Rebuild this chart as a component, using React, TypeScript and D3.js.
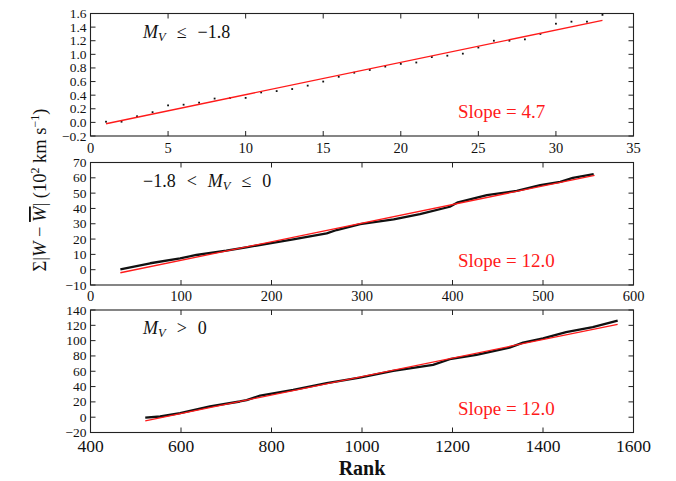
import React from "react";
import * as d3 from "d3";

// ---------- data ----------
const rank1 = [1, 2, 3, 4, 5, 6, 7, 8, 9, 10, 11, 12, 13, 14, 15, 16, 17, 18, 19, 20, 21, 22, 23, 24, 25, 26, 27, 28, 29, 30, 31, 32, 33];
const sum1 = [0.01, 0.01, 0.09, 0.15, 0.25, 0.26, 0.29, 0.35, 0.36, 0.36, 0.44, 0.46, 0.49, 0.54, 0.6, 0.67, 0.73, 0.77, 0.82, 0.86, 0.88, 0.96, 0.98, 1.01, 1.1, 1.2, 1.2, 1.22, 1.3, 1.45, 1.48, 1.48, 1.58];

const rank2 = [33, 66, 99, 117, 150, 172, 198, 224, 261, 272, 298, 335, 364, 397, 406, 438, 471, 497, 519, 533, 556];
const sum2 = [0.2, 4.2, 7.4, 9.6, 12.4, 14.6, 17.2, 19.8, 23.7, 25.9, 29.8, 32.9, 36.3, 41.1, 44.0, 48.7, 51.5, 55.2, 57.4, 60.0, 62.4];

const rank3 = [521, 554, 598, 664, 730, 745, 775, 848, 922, 995, 1069, 1157, 1194, 1253, 1326, 1356, 1400, 1451, 1510, 1565];
const sum3 = [-0.5, 0.9, 5.3, 14, 20.5, 22.3, 28.3, 35.7, 44.4, 51.8, 60.5, 68.3, 75.7, 81.4, 90.9, 97.4, 103, 111, 117.5, 126];

const fitRank1 = [1, 33];
const fitSum1 = [-0.02, 1.5];
const fitRank2 = [33, 557];
const fitSum2 = [-2.0, 61.6];
const fitRank3 = [521, 1565];
const fitSum3 = [-4.7, 121.3];

const xTicks1 = [0, 5, 10, 15, 20, 25, 30, 35];
const yTicks1 = [-0.2, 0, 0.2, 0.4, 0.6, 0.8, 1.0, 1.2, 1.4, 1.6];
const xTicks2 = [0, 100, 200, 300, 400, 500, 600];
const yTicks2 = [-10, 0, 10, 20, 30, 40, 50, 60, 70];
const xTicks3 = [400, 600, 800, 1000, 1200, 1400, 1600];
const yTicks3 = [-20, 0, 20, 40, 60, 80, 100, 120, 140];

const slopeLabels = ["Slope = 4.7", "Slope = 12.0", "Slope = 12.0"];
const xLabel = "Rank";

// ---------- layout ----------
const FONT = "'Liberation Serif', 'Times New Roman', serif";
const LEFT = 90.5;
const RIGHT = 633.5;
const RED = "#ff1a1a";

const fmt = (d: number, dec: number) => {
  const s = Math.abs(d).toFixed(dec);
  return d < 0 ? "\u2212" + s : s;
};

type PanelProps = {
  top: number;
  bottom: number;
  xDomain: [number, number];
  yDomain: [number, number];
  xTicks: number[];
  yTicks: number[];
  yDec: number;
  xFont: number;
  xLabelOff: number;
  rank: number[];
  sum: number[];
  dots: boolean;
  fitRank: number[];
  fitSum: number[];
  slope: string;
  label: React.ReactNode;
};

function Panel(p: PanelProps) {
  const x = d3.scaleLinear().domain(p.xDomain).range([LEFT, RIGHT]);
  const y = d3.scaleLinear().domain(p.yDomain).range([p.bottom, p.top]);
  const pts: [number, number][] = p.rank.map((r, i) => [r, p.sum[i]]);
  const fit: [number, number][] = p.fitRank.map((r, i) => [r, p.fitSum[i]]);
  const line = d3
    .line<[number, number]>()
    .x((d) => x(d[0]))
    .y((d) => y(d[1]));
  const TL = 5;
  return (
    <g>
      {p.dots ? (
        pts.map((d, i) => (
          <rect key={i} x={x(d[0]) - 0.9} y={y(d[1]) - 0.9} width={1.8} height={1.8} fill="#111" />
        ))
      ) : (
        <path d={line(pts) || ""} fill="none" stroke="#111" strokeWidth={2.3} strokeLinejoin="round" />
      )}
      <path d={line(fit) || ""} fill="none" stroke={RED} strokeWidth={1.3} />
      {/* frame */}
      <rect x={LEFT} y={p.top} width={RIGHT - LEFT} height={p.bottom - p.top} fill="none" stroke="#222" strokeWidth={1.1} />
      {/* x ticks */}
      {p.xTicks.map((t) => (
        <g key={"x" + t}>
          <line x1={x(t)} x2={x(t)} y1={p.bottom} y2={p.bottom - TL} stroke="#222" strokeWidth={1} />
          <line x1={x(t)} x2={x(t)} y1={p.top} y2={p.top + TL} stroke="#222" strokeWidth={1} />
          <text x={x(t)} y={p.bottom + p.xLabelOff} textAnchor="middle" fontSize={p.xFont} fontFamily={FONT} fill="#111">
            {fmt(t, 0)}
          </text>
        </g>
      ))}
      {/* y ticks */}
      {p.yTicks.map((t) => (
        <g key={"y" + t}>
          <line x1={LEFT} x2={LEFT + TL} y1={y(t)} y2={y(t)} stroke="#222" strokeWidth={1} />
          <line x1={RIGHT} x2={RIGHT - TL} y1={y(t)} y2={y(t)} stroke="#222" strokeWidth={1} />
          <text x={LEFT - 4} y={y(t) + 4.5} textAnchor="end" fontSize={13.5} fontFamily={FONT} fill="#111">
            {fmt(t, p.yDec)}
          </text>
        </g>
      ))}
      <text x={458} y={p.bottom - 18} fontSize={19} fontFamily={FONT} fill={RED}>
        {p.slope}
      </text>
      <g transform={`translate(143, ${p.top + 24})`}>{p.label}</g>
    </g>
  );
}

const MV = () => (
  <>
    <tspan fontStyle="italic">M</tspan>
    <tspan fontStyle="italic" fontSize={12.5} dy={3}>V</tspan>
  </>
);

export default function App() {
  const label1 = (
    <text x={0} y={0} fontSize={18} fontFamily={FONT} fill="#111">
      <MV />
      <tspan dy={-3} dx={11}>≤</tspan>
      <tspan dx={11}>−1.8</tspan>
    </text>
  );
  const label2 = (
    <text x={0} y={0} fontSize={18} fontFamily={FONT} fill="#111">
      <tspan>−1.8</tspan>
      <tspan dx={11}>&lt;</tspan>
      <tspan dx={11} fontStyle="italic">M</tspan>
      <tspan fontStyle="italic" fontSize={12.5} dy={3}>V</tspan>
      <tspan dy={-3} dx={11}>≤</tspan>
      <tspan dx={11}>0</tspan>
    </text>
  );
  const label3 = (
    <text x={0} y={0} fontSize={18} fontFamily={FONT} fill="#111">
      <MV />
      <tspan dy={-3} dx={11}>&gt;</tspan>
      <tspan dx={11}>0</tspan>
    </text>
  );
  return (
    <svg width={676} height={481} style={{ position: "absolute", left: 0, top: 0, background: "#fff" }}>
      <Panel top={13.5} bottom={136} xDomain={[0, 35]} yDomain={[-0.2, 1.6]} xTicks={xTicks1} yTicks={yTicks1} yDec={1}
        xFont={14.5} xLabelOff={16.5} rank={rank1} sum={sum1} dots={true} fitRank={fitRank1} fitSum={fitSum1}
        slope={slopeLabels[0]} label={label1} />
      <Panel top={162.5} bottom={285} xDomain={[0, 600]} yDomain={[-10, 70]} xTicks={xTicks2} yTicks={yTicks2} yDec={0}
        xFont={14.5} xLabelOff={16} rank={rank2} sum={sum2} dots={false} fitRank={fitRank2} fitSum={fitSum2}
        slope={slopeLabels[1]} label={label2} />
      <Panel top={310} bottom={432.5} xDomain={[400, 1600]} yDomain={[-20, 140]} xTicks={xTicks3} yTicks={yTicks3} yDec={0}
        xFont={17.5} xLabelOff={19.5} rank={rank3} sum={sum3} dots={false} fitRank={fitRank3} fitSum={fitSum3}
        slope={slopeLabels[2]} label={label3} />
      <text x={362} y={475} textAnchor="middle" fontSize={20} fontWeight="bold" fontFamily={FONT} fill="#111">
        {xLabel}
      </text>
      <text transform="translate(46, 190) rotate(-90)" textAnchor="middle" fontSize={18.5} fontFamily={FONT} fill="#111">
        <tspan>Σ|</tspan>
        <tspan fontStyle="italic">W</tspan>
        <tspan> − </tspan>
        <tspan fontStyle="italic" style={{ textDecoration: "overline" }}>W</tspan>
        <tspan>| (10</tspan>
        <tspan fontSize={12} dy={-7}>2</tspan>
        <tspan dy={7}> km s</tspan>
        <tspan fontSize={12} dy={-7}>−1</tspan>
        <tspan dy={7}>)</tspan>
      </text>
    </svg>
  );
}
